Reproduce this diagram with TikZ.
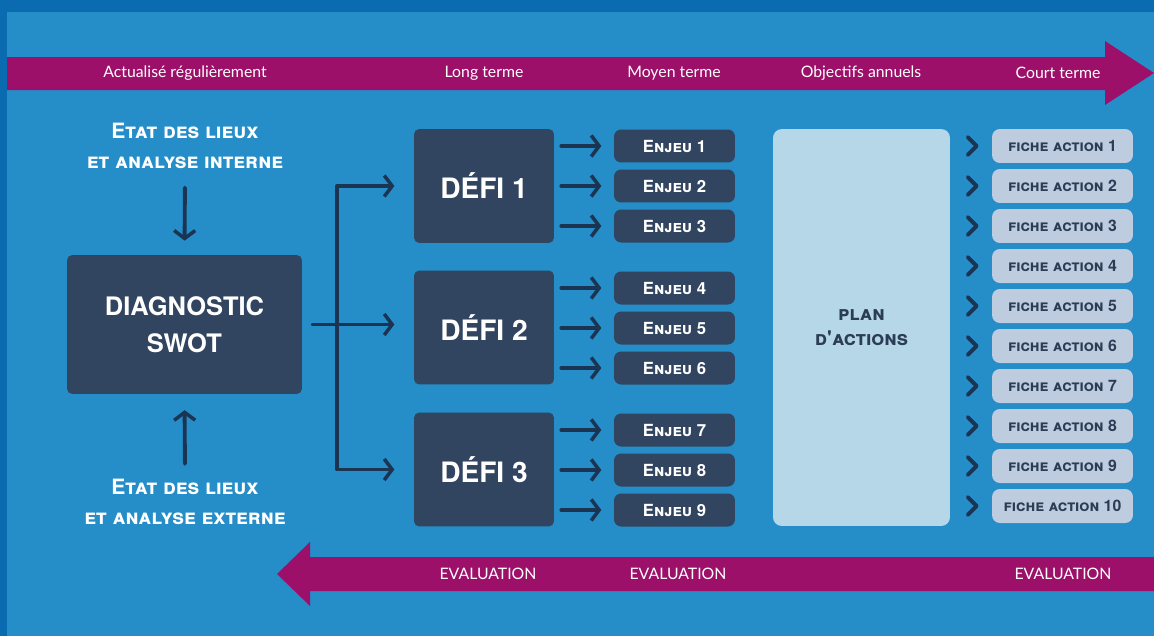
\documentclass[tikz,border=0pt]{standalone}
\usepackage{fontspec}
\setmainfont{Lato}
\newfontfamily\handfont{TeX Gyre Heros}
\usetikzlibrary{arrows.meta,calc}
\definecolor{frameblue}{HTML}{0B6BB1}
\definecolor{bgblue}{HTML}{258DC8}
\definecolor{bandmagenta}{HTML}{9C106A}
\definecolor{boxslate}{HTML}{324560}
\definecolor{inkblue}{HTML}{1A3452}
\definecolor{planblue}{HTML}{B5D7E8}
\definecolor{ficheblue}{HTML}{BDCCDE}
\definecolor{fichetext}{HTML}{2B3D55}

\tikzset{
  bandlabel/.style={text=white, font=\fontsize{9}{11}\selectfont},
  handlabel/.style={text=white, align=center, font=\handfont\bfseries\scshape\fontsize{12}{17.5}\selectfont},
  darkbox/.style={fill=boxslate, rounded corners=3pt, text=white, inner sep=0pt, align=center},
  diagbox/.style={darkbox, minimum width=4.7cm, minimum height=2.78cm, font=\handfont\bfseries\fontsize{14.5}{21}\selectfont},
  defibox/.style={darkbox, minimum width=2.8cm, minimum height=2.28cm, font=\handfont\bfseries\fontsize{16}{18}\selectfont},
  enjeubox/.style={darkbox, rounded corners=4pt, minimum width=2.42cm, minimum height=0.66cm, font=\handfont\bfseries\scshape\fontsize{9.5}{11}\selectfont},
  planbox/.style={fill=planblue, text=fichetext, rounded corners=5pt, minimum width=3.54cm, minimum height=7.94cm, inner sep=0pt, align=center, font=\handfont\bfseries\scshape\fontsize{11.5}{14}\selectfont},
  fichebox/.style={fill=ficheblue, text=fichetext, rounded corners=4.5pt, minimum width=2.82cm, minimum height=0.68cm, inner sep=0pt, font=\handfont\bfseries\scshape\fontsize{9}{11}\selectfont},
  link/.style={draw=inkblue, line width=2.2pt, line cap=round, -{Straight Barb[length=4.5pt,width=12pt,line width=2pt]}},
  trunk/.style={draw=inkblue, line width=1.8pt},
  chevron/.style={draw=inkblue, line width=2.2pt, line cap=round, line join=round},
}

\begin{document}
\begin{tikzpicture}[x=0.02cm, y=-0.02cm]
    % Background and frame
    \fill[frameblue] (0,0) rectangle (1154,636);
    \fill[bgblue] (7,12) rectangle (1154,636);
    \useasboundingbox (0,0) rectangle (1154,636);

    % Time bands
    \fill[bandmagenta] (7,57) -- (1105,57) -- (1105,41) -- (1154,73) -- (1105,105) -- (1105,90) -- (7,90) -- cycle;
    \fill[bandmagenta] (1154,557) -- (310,557) -- (310,542) -- (277,574) -- (310,606) -- (310,591) -- (1154,591) -- cycle;

    \node[bandlabel] (actualise) at (185,73) {Actualisé régulièrement};
    \node[bandlabel] (long) at (484,73) {Long terme};
    \node[bandlabel] (moyen) at (674,73) {Moyen terme};
    \node[bandlabel] (annuel) at (861,73) {Objectifs annuels};
    \node[bandlabel] (court) at (1058,73) {Court terme};
    \node[bandlabel] (eval1) at (488,574) {EVALUATION};
    \node[bandlabel] (eval2) at (678,574) {EVALUATION};
    \node[bandlabel] (eval3) at (1063,574) {EVALUATION};

    % Diagnostic
    \node[handlabel] (interne) at (185,146) {Etat des lieux\\et analyse interne};
    \node[diagbox] (diag) at (184.5,324.5) {DIAGNOSTIC\\SWOT};
    \node[handlabel] (externe) at (185,502) {Etat des lieux\\et analyse externe};
    \draw[link, shorten <=7pt, shorten >=8pt] (interne.south) -- (diag.north);
    \draw[link, shorten <=5pt, shorten >=9pt] (externe.north) -- (diag.south);

    % Defis
    \node[defibox] (defi1) at (484,186) {DÉFI 1};
    \node[defibox] (defi2) at (484,327.5) {DÉFI 2};
    \node[defibox] (defi3) at (484,469.5) {DÉFI 3};

    \coordinate (fork) at (337,324);
    \draw[trunk] (fork |- defi1.west) -- (fork |- defi3.west);
    \draw[link, shorten >=11pt] (fork |- defi1.west) -- (defi1.west);
    \draw[link, shorten <=6pt, shorten >=11pt] (diag.east) -- (diag.east -| defi2.west);
    \draw[link, shorten >=11pt] (fork |- defi3.west) -- (defi3.west);

    % Enjeux
    \foreach \i/\d/\y in {1/1/146, 2/1/186, 3/1/226, 4/2/288, 5/2/328, 6/2/368, 7/3/430, 8/3/470, 9/3/510} {
        \node[enjeubox] (enjeu\i) at (674.5,\y) {Enjeu \i};
        \draw[link, shorten <=4pt, shorten >=7pt] (defi\d.east |- enjeu\i.west) -- (enjeu\i.west);
    }

    % Plan d'actions and fiches
    \node[planbox] (plan) at (861.5,327.5) {plan\\d'actions};
    \foreach \i in {1,...,10} {
        \node[fichebox] (fiche\i) at (1062.5,{146+40*(\i-1)}) {fiche action \i};
        \draw[chevron] ($(fiche\i.west)+(-24,-9)$) -- ++(9,9) -- ++(-9,9);
    }
\end{tikzpicture}
\end{document}
